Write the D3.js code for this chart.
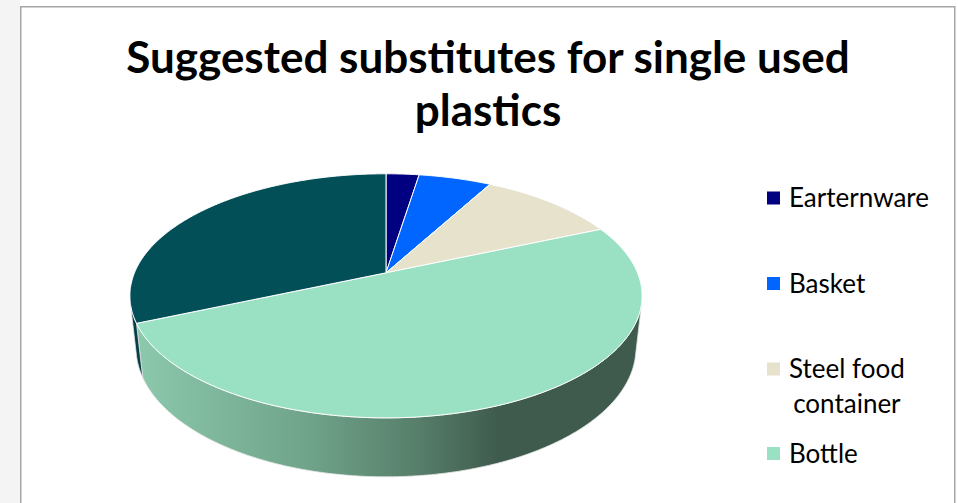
<!DOCTYPE html>
<html><head><meta charset="utf-8">
<script src="https://cdn.jsdelivr.net/npm/d3@7"></script>
<style>body{margin:0;background:#fff;} svg{display:block;}</style>
</head><body><svg id="c" width="958" height="503"></svg>
<script>
// ---- data ----
const categories = ["Earternware", "Basket", "Steel food container", "Bottle", "Cloth bag"];
const values = [2.5, 5.5, 10.5, 50, 31.5];
const colors = ["#000080", "#0066ff", "#e6e2cc", "#9ae1c3", "#024f57"];
const legendLines = [["Earternware"], ["Basket"], ["Steel food", "container"], ["Bottle"], ["Cloth bag"]];
const titleLines = ["Suggested substitutes for single used", "plastics"];

const W = 958, H = 503;
const svg = d3.select("#c");

// frame
svg.append("rect").attr("x", 0).attr("y", 0).attr("width", 20).attr("height", H).attr("fill", "#f4f4f4");
svg.append("rect").attr("x", 20.75).attr("y", 6.75).attr("width", 934).attr("height", 700)
  .attr("fill", "#fff").attr("stroke", "#a6a6a6").attr("stroke-width", 1.5);

// title
const title = svg.append("text").attr("text-anchor", "middle")
  .attr("font-family", "Lato, 'Open Sans', sans-serif").attr("font-weight", 700)
  .attr("font-size", 44).attr("fill", "#000");
titleLines.forEach((t, i) => {
  title.append("tspan").attr("x", 488).attr("y", 73 + i * 53).text(t);
});

// ---- 3D pie projection ----
const cx = 386, cy = 272.8, K = 1178, sA = 0.468, cA = Math.sqrt(1 - sA * sA), Dist = 4.684, Hh = 0.2368;
function proj(phi, yl) {
  const x = Math.sin(phi), z = -Math.cos(phi);
  const xc = x, yc = yl * cA - z * sA, depth = Dist - (yl * sA + z * cA);
  return [cx + K * xc / depth, cy - K * yc / depth];
}
function arcPts(a0, a1, yl) {
  const n = Math.max(2, Math.ceil(Math.abs(a1 - a0) / (Math.PI / 360)));
  return d3.range(n + 1).map(i => proj(a0 + (a1 - a0) * i / n, yl));
}
const pie = d3.pie().sort(null).value(d => d)(values);
const line = d3.line();

const defs = svg.append("defs");
const grad = defs.append("linearGradient").attr("id", "wall").attr("gradientUnits", "userSpaceOnUse")
  .attr("x1", 130).attr("x2", 641).attr("y1", 0).attr("y2", 0);
[[0, "#8dcaad"], [0.35, "#6fa38a"], [0.57, "#567d69"], [0.72, "#3f5b4d"], [1, "#3f5b4d"]]
  .forEach(([o, c]) => grad.append("stop").attr("offset", o).attr("stop-color", c));
const wallFill = ["#000050", "#0040a0", "#a09c88", "url(#wall)", "#063f46"];

// visible outer wall range
const phiVis = Math.acos(-1 / (Dist * cA));
const vis0 = phiVis, vis1 = 2 * Math.PI - phiVis;
const g = svg.append("g");
pie.forEach((p, i) => {
  const a0 = Math.max(p.startAngle, vis0), a1 = Math.min(p.endAngle, vis1);
  if (a1 <= a0) return;
  const pts = arcPts(a0, a1, 0).concat(arcPts(a1, a0, -Hh));
  g.append("path").attr("d", line(pts) + "Z").attr("fill", wallFill[i])
    .attr("stroke", "#e6e6e6").attr("stroke-width", 0.8);
});
pie.forEach((p, i) => {
  const pts = [[cx, cy]].concat(arcPts(p.startAngle, p.endAngle, 0));
  g.append("path").attr("d", line(pts) + "Z").attr("fill", colors[i])
    .attr("stroke", "#ffffff").attr("stroke-width", 1);
});

// ---- legend ----
const lg = svg.append("g").attr("font-family", "Lato, 'Open Sans', sans-serif").attr("font-size", 26).attr("fill", "#000");
const rowY = [198, 283.5, 369, 453.5, 540];
categories.forEach((c, i) => {
  const y = rowY[i];
  if (y > H) return;
  lg.append("rect").attr("x", 767).attr("y", y - 6.5).attr("width", 13).attr("height", 13).attr("fill", colors[i]);
  const lines = legendLines[i];
  const t = lg.append("text").attr("x", 789).attr("y", y + 9).text(lines[0]);
  if (lines.length > 1) {
    const w = t.node().getComputedTextLength();
    t.attr("text-anchor", "middle").attr("x", 789 + w / 2);
    lg.append("text").attr("text-anchor", "middle").attr("x", 789 + w / 2).attr("y", y + 44).text(lines[1]);
  }
});
</script>
</body></html>
